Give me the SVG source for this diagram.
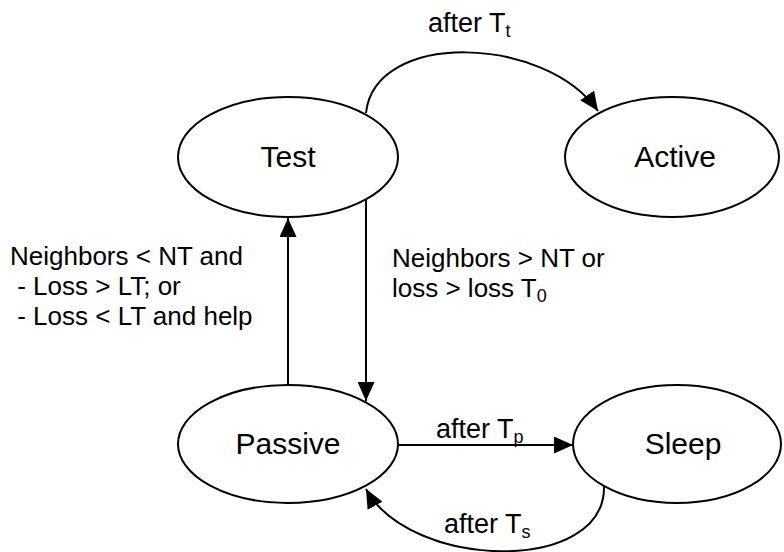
<svg xmlns="http://www.w3.org/2000/svg" width="784" height="552" viewBox="0 0 784 552">
<style>
.node{fill:#fff;stroke:#000;stroke-width:2}
.nt{font-family:"Liberation Sans",Arial,sans-serif;font-size:30px;text-anchor:middle;fill:#000}
.lt{font-family:"Liberation Sans",Arial,sans-serif;font-size:26px;fill:#000}
.at{font-size:27px}
.sub{font-size:18px}
.edge{fill:none;stroke:#000;stroke-width:2}
</style>
<defs>
<marker id="ah" markerUnits="userSpaceOnUse" markerWidth="19" markerHeight="17" refX="19" refY="8.5" orient="auto">
<path d="M0,0 L19,8.5 L0,17 z" fill="#000"/>
</marker>
</defs>
<g id="edges">
<path class="edge" d="M366,113 C375,30 545,35 598,111" marker-end="url(#ah)"/>
<path class="edge" d="M288,385 L288,218" marker-end="url(#ah)"/>
<path class="edge" d="M366,199 L366,401" marker-end="url(#ah)"/>
<path class="edge" d="M398,445 L573,445" marker-end="url(#ah)"/>
<path class="edge" d="M604,486 C606,575 410,570 366,489" marker-end="url(#ah)"/>
<text class="lt at" x="428" y="32">after T<tspan class="sub" dy="5">t</tspan></text>
<text class="lt" x="10" y="265">Neighbors &lt; NT and</text>
<text class="lt" x="10" y="295" xml:space="preserve"> - Loss &gt; LT; or</text>
<text class="lt" x="10" y="325" xml:space="preserve"> - Loss &lt; LT and help</text>
<text class="lt" x="392" y="267">Neighbors &gt; NT or</text>
<text class="lt" x="392" y="297">loss &gt; loss T<tspan class="sub" dy="5">0</tspan></text>
<text class="lt at" x="436" y="438">after T<tspan class="sub" dy="5">p</tspan></text>
<text class="lt at" x="444" y="533">after T<tspan class="sub" dy="5">s</tspan></text>
</g>
<g id="test"><ellipse class="node" cx="288" cy="157" rx="110" ry="60"/><text class="nt" x="288" y="167">Test</text></g>
<g id="active"><ellipse class="node" cx="672" cy="157" rx="107" ry="60"/><text class="nt" x="675" y="167">Active</text></g>
<g id="passive"><ellipse class="node" cx="288" cy="444" rx="110" ry="59"/><text class="nt" x="288" y="454">Passive</text></g>
<g id="sleep"><ellipse class="node" cx="677" cy="444" rx="104" ry="59"/><text class="nt" x="683" y="454">Sleep</text></g>
</svg>
